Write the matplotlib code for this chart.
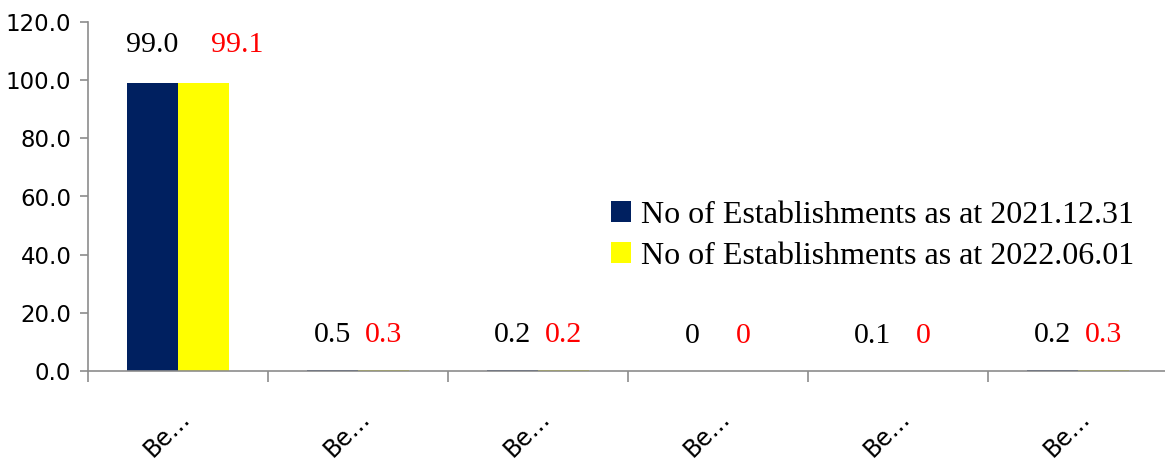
"Grouped bar chart: share of establishments by category, two dates."

import numpy as np
import matplotlib
matplotlib.use('Agg')
import matplotlib.pyplot as plt

categories = ['Be\u2026'] * 6
est_2021 = [99.0, 0.5, 0.2, 0, 0.1, 0.2]
est_2022 = [99.1, 0.3, 0.2, 0, 0, 0.3]
text_2021 = ['99.0', '0.5', '0.2', '0', '0.1', '0.2']
text_2022 = ['99.1', '0.3', '0.2', '0', '0', '0.3']
names = ['No of Establishments as at 2021.12.31',
         'No of Establishments as at 2022.06.01']
yticks = [0, 20, 40, 60, 80, 100, 120]

NAVY = '#002060'
YELLOW = '#ffff00'
GREY = '#8c8c8c'
SERIF = 'Liberation Serif'

fig = plt.figure(figsize=(11.65, 4.65), dpi=100)
ax = fig.add_axes([88 / 1165, 94 / 465, 1080 / 1165, 349 / 465])

x = np.arange(len(categories))
width = 0.2833
bars1 = ax.bar(x - width / 2, est_2021, width, color=NAVY, label=names[0])
bars2 = ax.bar(x + width / 2, est_2022, width, color=YELLOW, label=names[1])

# value labels above the bars
for i, (b, txt) in enumerate(zip(bars1, text_2021)):
    dy = 25 if i == 0 else 22
    ax.annotate(txt, (b.get_x() + b.get_width() / 2, b.get_height()),
                xytext=(0, dy), textcoords='offset pixels', ha='center',
                va='bottom', fontsize=21.5, family=SERIF, color='black')
for i, (b, txt) in enumerate(zip(bars2, text_2022)):
    dx = 34 if i == 0 else 0
    dy = 25 if i == 0 else 22
    ax.annotate(txt, (b.get_x() + b.get_width() / 2, b.get_height()),
                xytext=(dx, dy), textcoords='offset pixels', ha='center',
                va='bottom', fontsize=21.5, family=SERIF, color='#ff0000')

ax.set_xlim(-0.5, len(categories) - 0.5)
ax.set_ylim(0, 120)
ax.set_yticks(yticks)
ax.set_yticklabels(['%.1f' % v for v in yticks], fontsize=16.5)
ax.tick_params(axis='y', length=6, color=GREY, width=1.2, pad=6)

ax.set_xticks(x)
ax.set_xticklabels(categories, rotation=45, ha='right',
                   rotation_mode='anchor', fontsize=17)
ax.tick_params(axis='x', which='major', length=0, pad=25)
ax.set_xticks(np.arange(len(categories)) - 0.5, minor=True)
ax.tick_params(axis='x', which='minor', length=8, color=GREY, width=1.2)

for side in ('top', 'right'):
    ax.spines[side].set_visible(False)
for side in ('left', 'bottom'):
    ax.spines[side].set_color(GREY)
    ax.spines[side].set_linewidth(1.2)

ax.legend(loc='center left', bbox_to_anchor=(0.458, 0.387), frameon=False,
          prop={'family': SERIF, 'size': 23}, handlelength=0.62,
          handleheight=0.62, handletextpad=0.3, labelspacing=0.38)

fig.savefig('out.png', dpi=100)
